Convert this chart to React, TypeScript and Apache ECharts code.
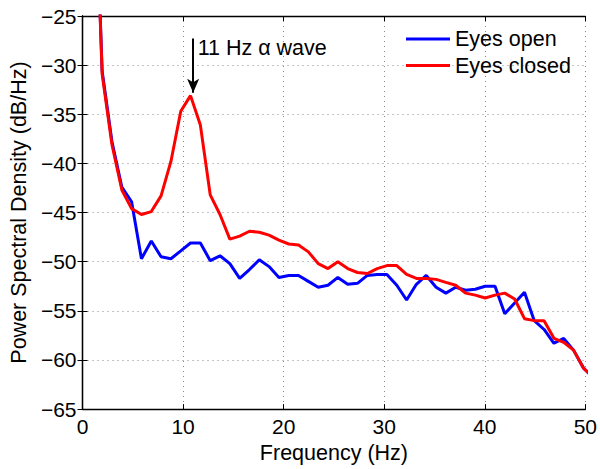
import React, { useEffect, useRef } from "react";
import * as echarts from "echarts";

const freqs = [
  0.98, 1.95, 2.93, 3.91, 4.88, 5.86, 6.84, 7.81, 8.79, 9.77,
  10.74, 11.72, 12.7, 13.67, 14.65, 15.63, 16.6, 17.58, 18.55, 19.53,
  20.51, 21.48, 22.46, 23.44, 24.41, 25.39, 26.37, 27.34, 28.32, 29.3,
  30.27, 31.25, 32.23, 33.2, 34.18, 35.16, 36.13, 37.11, 38.09, 39.06,
  40.04, 41.02, 41.99, 42.97, 43.95, 44.92, 45.9, 46.88, 47.85, 48.83,
  49.8, 50.78,
];

const eyesOpen = [
  -2, -30.6, -37.8, -42.4, -43.9, -49.7, -47.9, -49.5, -49.7, -48.9,
  -48.1, -48.1, -49.9, -49.4, -50.2, -51.7, -50.8, -49.8, -50.5, -51.6,
  -51.4, -51.4, -52.0, -52.6, -52.4, -51.6, -52.3, -52.2, -51.4, -51.3,
  -51.3, -52.4, -53.9, -52.3, -51.4, -52.6, -53.2, -52.6, -52.9, -52.8,
  -52.5, -52.5, -55.3, -54.2, -53.1, -56.0, -56.9, -58.3, -57.8, -59.0,
  -60.8, -61.8,
];

const eyesClosed = [
  -2, -30.9, -38.1, -42.7, -44.6, -45.2, -44.9, -43.3, -39.8, -34.7,
  -33.1, -36.1, -43.2, -45.2, -47.7, -47.4, -46.9, -47.0, -47.3, -47.8,
  -48.2, -48.3, -49.0, -50.2, -50.7, -50.0, -50.7, -51.1, -51.2, -50.7,
  -50.4, -50.4, -51.3, -51.7, -51.7, -51.8, -52.1, -52.4, -53.2, -53.4,
  -53.7, -53.4, -53.2, -53.8, -55.8, -56.0, -56.0, -57.8, -58.2, -59.0,
  -60.8, -61.8,
];

const seriesNames = ["Eyes open", "Eyes closed"];
const annotationText = "11 Hz \u03b1 wave";
const annotationFreq = 11;
const arrowFrom = -27.3;
const arrowTo = -32.8;
const textLevel = -28.3;

const FONT = "'Liberation Sans', Arial, Helvetica, sans-serif";
const FS = 21.5;

const fmtNum = (v: number) => (v < 0 ? "\u2212" + Math.abs(v) : String(v));

export default function App() {
  const ref = useRef<HTMLDivElement>(null);
  useEffect(() => {
    if (!ref.current) return;
    const chart = echarts.init(ref.current, undefined, { renderer: "svg" });
    const pairs = (ys: number[]) => freqs.map((f, i) => [f, ys[i]]);
    const axisLine = { show: true, lineStyle: { color: "#000", width: 1.3 } };
    const tick = { show: true, inside: true, length: 5, lineStyle: { color: "#000", width: 1 } };
    const grid = { show: true, lineStyle: { color: "#8a8a8a", width: 1, type: [1, 4] as any } };
    chart.setOption({
      animation: false,
      backgroundColor: "#fff",
      textStyle: { fontFamily: FONT },
      grid: { left: 80, right: 14, top: 16, bottom: 53, containLabel: false },
      legend: {
        orient: "vertical",
        left: 406,
        top: 28,
        padding: 0,
        itemGap: 4.5,
        itemWidth: 44,
        itemHeight: 3,
        icon: "rect",
        data: seriesNames,
        textStyle: { fontSize: FS, color: "#000", fontFamily: FONT },
      },
      xAxis: [
        {
          type: "value",
          min: 0,
          max: 50,
          interval: 10,
          name: "Frequency (Hz)",
          nameLocation: "middle",
          nameGap: 22,
          nameTextStyle: { fontSize: FS, color: "#000", fontFamily: FONT },
          axisLine,
          axisTick: tick,
          axisLabel: { fontSize: 21, color: "#000", margin: 7, fontFamily: FONT, formatter: fmtNum },
          splitLine: grid,
        },
        {
          type: "value",
          position: "top",
          min: 0,
          max: 50,
          interval: 10,
          axisLine,
          axisTick: tick,
          axisLabel: { show: false },
          splitLine: { show: false },
        },
      ],
      yAxis: [
        {
          type: "value",
          min: -65,
          max: -25,
          interval: 5,
          name: "Power Spectral Density (dB/Hz)",
          nameLocation: "middle",
          nameGap: 46,
          nameTextStyle: { fontSize: FS, color: "#000", fontFamily: FONT },
          axisLine,
          axisTick: tick,
          axisLabel: { fontSize: 21, color: "#000", margin: 6, fontFamily: FONT, formatter: fmtNum },
          splitLine: grid,
        },
        {
          type: "value",
          position: "right",
          min: -65,
          max: -25,
          interval: 5,
          axisLine,
          axisTick: tick,
          axisLabel: { show: false },
          splitLine: { show: false },
        },
      ],
      series: [
        {
          name: seriesNames[0],
          type: "line",
          data: pairs(eyesOpen),
          showSymbol: false,
          symbol: "none",
          clip: true,
          lineStyle: { color: "#0000ff", width: 3 },
          itemStyle: { color: "#0000ff" },
        },
        {
          name: seriesNames[1],
          type: "line",
          data: pairs(eyesClosed),
          showSymbol: false,
          symbol: "none",
          clip: true,
          lineStyle: { color: "#ff0000", width: 3 },
          itemStyle: { color: "#ff0000" },
          markLine: {
            silent: true,
            symbol: ["none", "arrow"],
            symbolSize: [9, 14],
            label: { show: false },
            lineStyle: { color: "#000", width: 2, type: "solid" },
            data: [[{ coord: [annotationFreq, arrowFrom] }, { coord: [annotationFreq, arrowTo] }]],
          },
          markPoint: {
            silent: true,
            data: [
              {
                coord: [annotationFreq, textLevel],
                symbol: "rect",
                symbolSize: 1,
                itemStyle: { color: "rgba(0,0,0,0)" },
                label: {
                  show: true,
                  position: "right",
                  distance: 4,
                  formatter: annotationText,
                  color: "#000",
                  fontSize: FS,
                  fontFamily: FONT,
                },
              },
            ],
          },
        },
      ],
    });
    return () => chart.dispose();
  }, []);
  return (
    <div
      ref={ref}
      style={{ position: "fixed", left: 0, top: 0, width: 600, height: 469, background: "#fff" }}
    />
  );
}
